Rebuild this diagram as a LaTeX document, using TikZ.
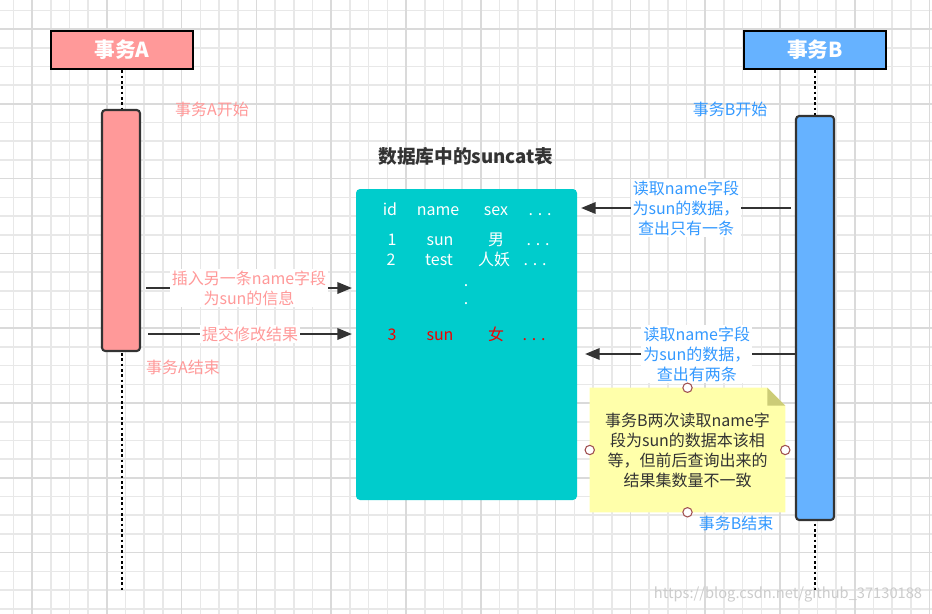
\documentclass[tikz,border=0pt]{standalone}
\usepackage{fontspec}
\setmainfont{Noto Sans CJK SC}
\usetikzlibrary{arrows.meta, positioning, calc, backgrounds}
\definecolor{cpink}{HTML}{FF9999}
\definecolor{cblue}{HTML}{66B2FF}
\definecolor{cbluetxt}{HTML}{3399FF}
\definecolor{cteal}{HTML}{00CCCC}
\definecolor{cnote}{HTML}{FFFFAA}
\definecolor{cfold}{HTML}{CCCC77}
\definecolor{cdark}{HTML}{333333}
\definecolor{cred}{HTML}{F00000}
\definecolor{cgridmin}{HTML}{E8E8E8}
\definecolor{cgridmaj}{HTML}{DADADA}
\definecolor{chandle}{HTML}{A05050}
\tikzset{
  every picture/.style={font=\fontsize{12}{15}\selectfont},
  hdr/.style={draw=black, fill=#1, line width=2pt, minimum width=106.5pt, minimum height=28.5pt, inner sep=0pt, text=white, font=\fontsize{15.5}{18}\selectfont\bfseries},
  act/.style={draw=cdark, fill=#1, line width=1.6pt, rounded corners=2.5pt, minimum width=28.5pt, inner sep=0pt},
  life/.style={draw=black, line width=2pt, dash pattern=on 2pt off 2pt},
  msg/.style={-{Triangle[length=11pt, width=8.5pt]}, draw=cdark, line width=1.8pt},
  lbl/.style={fill=white, align=center, inner sep=1.5pt, text=#1},
  title/.style={font=\fontsize{14}{16}\selectfont\bfseries, text=cdark},
}

\begin{document}
\begin{tikzpicture}[x=0.75pt, y=-0.75pt,
  cell/.style={text=white, text height=0.8em, text depth=0.2em, inner sep=0pt},
  handle/.style={circle, draw=chandle, fill=white, line width=0.8pt, minimum size=7pt, inner sep=0pt}]
  % paper with grid
  \begin{pgfonlayer}{background}
    \path[use as bounding box, fill=white] (0,0) rectangle (932,614);
    \foreach \i in {0,...,49} \draw[cgridmin, line width=1.2pt] (13.3+18.7*\i,0) -- ++(0,614);
    \foreach \j in {0,...,32} \draw[cgridmin, line width=1.2pt] (0,10.3+18.7*\j) -- ++(932,0);
    \foreach \i in {0,...,12} \draw[cgridmaj, line width=1.2pt] (32+74.8*\i,0) -- ++(0,614);
    \foreach \j in {0,...,7} \draw[cgridmaj, line width=1.2pt] (0,29+74.8*\j) -- ++(932,0);
  \end{pgfonlayer}
  % the two transactions
  \node[hdr=cpink] (hA) at (122,50) {事务A};
  \node[hdr=cblue] (hB) at (815,50) {事务B};
  \coordinate (eA) at (122,590);
  \coordinate (eB) at (815,590);
  \draw[life] (hA) -- (eA);
  \draw[life] (hB) -- (eB);
  \node[act=cpink, minimum height=180.75pt] (aA) at (121,230.5) {};
  \node[act=cblue, minimum height=303pt] (aB) at (815,318) {};
  \node[text=cpink] (sA) at (212,109) {事务A开始};
  \node[text=cpink] (fA) at (183,367) {事务A结束};
  \node[text=cbluetxt] (sB) at (730,109) {事务B开始};
  \node[text=cbluetxt] (fB) at (736,523) {事务B结束};
  % the table
  \node[title] (ttl) at (466,156) {数据库中的suncat表};
  \node[fill=cteal, rounded corners=3pt, minimum width=165.75pt, minimum height=233.25pt] (tbl) at (466.5,344.5) {};
  \foreach \x/\w [count=\i] in {390/id, 438/name, 496/sex, 540/{. . .}}
    \node[cell] (c0\i) at (\x,211) {\w};
  \foreach \x/\w [count=\i] in {392/1, 440/sun, 496/男, 538/{. . .}}
    \node[cell] (c1\i) at (\x,241) {\w};
  \foreach \x/\w [count=\i] in {391/2, 439/test, 494/人妖, 535/{. . .}}
    \node[cell] (c2\i) at (\x,261) {\w};
  \node[cell] (d1) at (466,282) {.};
  \node[cell] (d2) at (466,300) {.};
  \foreach \x/\w [count=\i] in {392/3, 440/sun, 496/女, 534/{. . .}}
    \node[cell, text=cred] (c3\i) at (\x,336) {\w};
  % messages
  \coordinate (a1s) at (146,288); \coordinate (a1e) at (352,288);
  \coordinate (a2s) at (148,334); \coordinate (a2e) at (352,334);
  \coordinate (b1s) at (791,208); \coordinate (b1e) at (581,208);
  \coordinate (b2s) at (796,354); \coordinate (b2e) at (585,354);
  \draw[msg] (a1s) -- (a1e) node[midway, lbl=cpink] (m1) {插入另一条name字段\\为sun的信息};
  \draw[msg] (a2s) -- (a2e) node[midway, lbl=cpink] (m2) {提交修改结果};
  \draw[msg] (b1s) -- (b1e) node[midway, lbl=cbluetxt] (m3) {读取name字段\\为sun的数据，\\查出只有一条};
  \draw[msg] (b2s) -- (b2e) node[pos=0.47, lbl=cbluetxt] (m4) {读取name字段\\为sun的数据，\\查出有两条};
  % note
  \node[minimum width=146.25pt, minimum height=93pt, align=center, text=cdark] (memo) at (687.5,450)
    {事务B两次读取name字\\段为sun的数据本该相\\等，但前后查询出来的\\结果集数量不一致};
  \begin{pgfonlayer}{background}
    \fill[cnote] (memo.south west) -- (memo.north west) -- ($(memo.north east)+(-18,0)$)
      -- ($(memo.north east)+(0,18)$) -- (memo.south east) -- cycle;
    \fill[cfold] ($(memo.north east)+(-18,0)$) -- ($(memo.north east)+(0,18)$) -- ($(memo.north east)+(-18,18)$) -- cycle;
  \end{pgfonlayer}
  \foreach \a in {north,south,west,east} \node[handle] (k\a) at (memo.\a) {};
  \node[text=black!20, font=\fontsize{11}{12}\selectfont] (wm) at (788,594) {https://blog.csdn.net/github\_37130188};
\end{tikzpicture}
\end{document}
